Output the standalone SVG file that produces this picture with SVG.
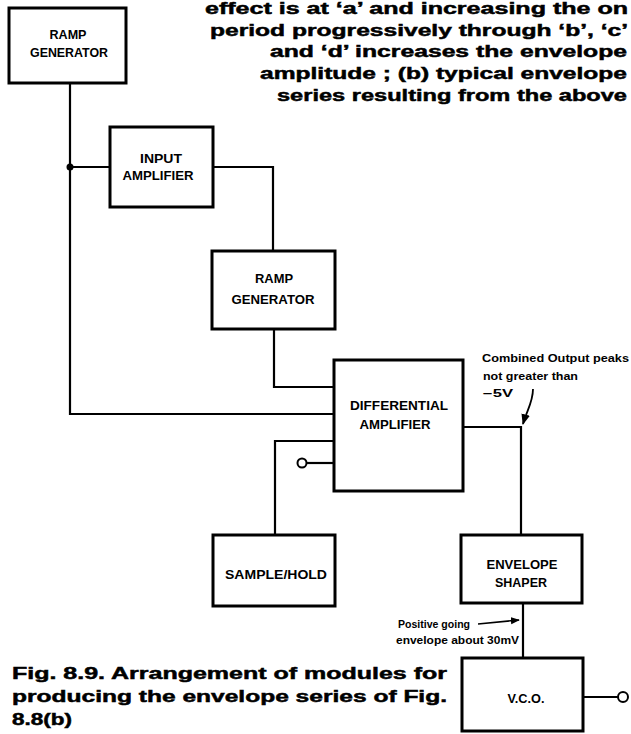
<svg xmlns="http://www.w3.org/2000/svg" width="631" height="734" viewBox="0 0 631 734">
<style>
.box{fill:#fff;stroke:#000;stroke-width:3}
.w{fill:none;stroke:#000;stroke-width:2.2}
.lbl{font-family:"Liberation Sans",Arial,sans-serif;font-weight:bold;font-size:13px;fill:#000;text-anchor:middle}
.ann{font-family:"Liberation Sans",Arial,sans-serif;font-weight:bold;font-size:10px;fill:#000}
.para{font-family:"Liberation Sans",Arial,sans-serif;font-weight:bold;font-size:17px;fill:#000;stroke:#000;stroke-width:0.5}
.term{fill:#fff;stroke:#000;stroke-width:2}
</style>
<defs>
<marker id="ah" viewBox="0 0 10 10" refX="9" refY="5" markerWidth="6" markerHeight="6" orient="auto-start-reverse">
<path d="M0 1 L10 5 L0 9 Z" fill="#000"/>
</marker>
</defs>

<g id="caption-top">
<text class="para" x="205" y="14" font-size="16" textLength="423" lengthAdjust="spacingAndGlyphs">effect is at ‘a’ and increasing the on</text>
<text class="para" x="210" y="36" textLength="418" lengthAdjust="spacingAndGlyphs">period progressively through ‘b’, ‘c’</text>
<text class="para" x="270" y="57" textLength="357" lengthAdjust="spacingAndGlyphs">and ‘d’ increases the envelope</text>
<text class="para" x="260" y="79" textLength="367" lengthAdjust="spacingAndGlyphs">amplitude ; (b) typical envelope</text>
<text class="para" x="277" y="101" textLength="350" lengthAdjust="spacingAndGlyphs">series resulting from the above</text>
</g>

<g id="connectors">
<path class="w" d="M70 83 V414 H334" stroke-width="2.6"/>
<path class="w" d="M70 167 H110"/>
<circle cx="70" cy="167" r="3.5" fill="#000"/>
<path class="w" d="M213 167 H273 V251"/>
<path class="w" d="M274 329 V387 H334"/>
<path class="w" d="M334 441 H275 V535"/>
<path class="w" d="M307 463 H334"/>
<circle class="term" cx="302" cy="463" r="4.5"/>
<path class="w" d="M463 427 H521 V535"/>
<path class="w" d="M523 603 V658"/>
<path class="w" d="M583 697 H618"/>
<circle class="term" cx="623" cy="697" r="5"/>
<path d="M533 389 C533 402 527 410 523 424" fill="none" stroke="#000" stroke-width="1.8" marker-end="url(#ah)"/>
<path d="M478 624 L519 620" fill="none" stroke="#000" stroke-width="1.5" marker-end="url(#ah)"/>
</g>

<g id="ramp1">
<rect class="box" x="9" y="8" width="117" height="75"/>
<text class="lbl" x="68" y="39" textLength="37" lengthAdjust="spacingAndGlyphs">RAMP</text>
<text class="lbl" x="69" y="57" textLength="78" lengthAdjust="spacingAndGlyphs">GENERATOR</text>
</g>

<g id="input-amp">
<rect class="box" x="110" y="127" width="103" height="80"/>
<text class="lbl" x="161" y="163" textLength="42" lengthAdjust="spacingAndGlyphs">INPUT</text>
<text class="lbl" x="158" y="180" textLength="71" lengthAdjust="spacingAndGlyphs">AMPLIFIER</text>
</g>

<g id="ramp2">
<rect class="box" x="212" y="251" width="123" height="78"/>
<text class="lbl" x="274" y="283" textLength="38" lengthAdjust="spacingAndGlyphs">RAMP</text>
<text class="lbl" x="273" y="304" textLength="83" lengthAdjust="spacingAndGlyphs">GENERATOR</text>
</g>

<g id="diff-amp">
<rect class="box" x="334" y="360" width="129" height="131"/>
<text class="lbl" x="399" y="410" textLength="98" lengthAdjust="spacingAndGlyphs">DIFFERENTIAL</text>
<text class="lbl" x="395" y="429" textLength="71" lengthAdjust="spacingAndGlyphs">AMPLIFIER</text>
</g>

<g id="sample-hold">
<rect class="box" x="213" y="535" width="122" height="71"/>
<text class="lbl" x="276" y="579" textLength="102" lengthAdjust="spacingAndGlyphs">SAMPLE/HOLD</text>
</g>

<g id="envelope-shaper">
<rect class="box" x="461" y="535" width="121" height="68"/>
<text class="lbl" x="522" y="569" textLength="71" lengthAdjust="spacingAndGlyphs">ENVELOPE</text>
<text class="lbl" x="521" y="587" textLength="52" lengthAdjust="spacingAndGlyphs">SHAPER</text>
</g>

<g id="vco">
<rect class="box" x="462" y="658" width="121" height="73"/>
<text class="lbl" x="526" y="703" textLength="37" lengthAdjust="spacingAndGlyphs">V.C.O.</text>
</g>

<g id="annotations">
<text class="ann" x="482" y="362" textLength="147" lengthAdjust="spacingAndGlyphs">Combined Output peaks</text>
<text class="ann" x="483" y="380" textLength="95" lengthAdjust="spacingAndGlyphs">not greater than</text>
<text class="ann" x="483" y="397" textLength="30" lengthAdjust="spacingAndGlyphs">−5V</text>
<text class="ann" x="398" y="628" textLength="72" lengthAdjust="spacingAndGlyphs">Positive going</text>
<text class="ann" x="396" y="644" textLength="123" lengthAdjust="spacingAndGlyphs">envelope about 30mV</text>
</g>

<g id="caption">
<text class="para" x="12" y="679" textLength="435" lengthAdjust="spacingAndGlyphs">Fig. 8.9. Arrangement of modules for</text>
<text class="para" x="12" y="702" textLength="435" lengthAdjust="spacingAndGlyphs">producing the envelope series of Fig.</text>
<text class="para" x="12" y="725" textLength="60" lengthAdjust="spacingAndGlyphs">8.8(b)</text>
</g>
</svg>
